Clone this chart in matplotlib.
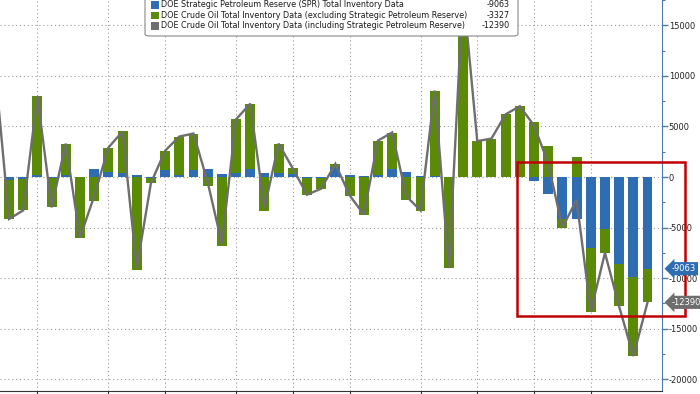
import numpy as np
import matplotlib
matplotlib.use("Agg")
import matplotlib.pyplot as plt
from matplotlib.patches import FancyBboxPatch, Rectangle

plt.rcParams['font.family'] = ['DejaVu Sans']
plt.rcParams['axes.unicode_minus'] = False

# ---------------- data (weekly changes, thousand barrels) ----------------
weeks = list(range(-1, 46))
spr = [0, -300, -200, 200, -100, 150, 0, 800, 500, 400, 200, -100, 700, 150, 700,
       750, 300, 400, 750, 400, 400, 300, -100, -50, 1000, 200, 100, 150, 800, 500,
       100, 100, 0, 0, 0, 0, 0, 0, -350, -1700, -4200, -4200, -7050, -5150, -8600,
       -9850, -9063]
commercial = [11000, -3850, -3100, 7800, -2900, 3150, -6000, -2400, 2400, 4100, -9200,
              -500, 1900, 3850, 3600, -900, -6800, 5300, 6500, -3400, 2900, 550, -1650,
              -1100, 300, -1900, -3800, 3450, 3600, -2250, -3400, 8450, -9000, 18500,
              3550, 3800, 6200, 7000, 5450, 3050, -800, 1950, -6250, -2350, -4200,
              -7850, -3327]
total = [11000, -4150, -3300, 8000, -3000, 3300, -6000, -1900, 2900, 4500, -9000,
         -600, 2600, 4000, 4300, -500, -6600, 5700, 7250, -3100, 3300, 850, -1750,
         -1150, 1300, -1800, -3700, 3600, 4400, -1900, -3300, 8550, -9000, 18500,
         3550, 3800, 6200, 7000, 5100, 1350, -5000, -2250, -13300, -7500, -12800,
         -17700, -12390]

legend_labels = ["DOE Strategic Petroleum Reserve (SPR) Total Inventory Data",
                 "DOE Crude Oil Total Inventory Data (excluding Strategic Petroleum Reserve)",
                 "DOE Crude Oil Total Inventory Data (including Strategic Petroleum Reserve)"]
legend_values = ["-9063", "-3327", "-12390"]
month_ticks = [2, 7, 11, 16, 20, 24, 29, 33, 37, 41]
y_major = [-20000, -15000, -10000, -5000, 0, 5000, 10000, 15000]
y_minor = list(range(-20000, 17501, 2500))

BLUE = "#2f6db3"
GREEN = "#5b8a06"
GREY = "#6e6e6e"
RED = "#c00000"

W, H = 700, 394
fig = plt.figure(figsize=(W / 100, H / 100), dpi=100)
fig.patch.set_facecolor("white")
ax = fig.add_axes([0, 3 / H, 662 / W, 391 / H])

x = np.array(weeks, dtype=float)
s = np.array(spr, dtype=float)
c = np.array(commercial, dtype=float)
green_bottom = np.where(np.sign(c) == np.sign(s), s, 0.0)

ax.bar(x, s, width=0.7, color=BLUE, zorder=2, linewidth=0)
ax.bar(x, c, bottom=green_bottom, width=0.7, color=GREEN, zorder=2, linewidth=0)
ax.plot(x, total, color=GREY, lw=1.7, zorder=4, solid_joinstyle="miter")

ax.set_xlim(-0.636, 46.02)
ax.set_ylim(-21155, 17443)

# axes styling
for side in ("top", "left"):
    ax.spines[side].set_visible(False)
ax.spines["right"].set_color("#4f79a8")
ax.spines["bottom"].set_color("#333333")
ax.yaxis.tick_right()
ax.set_yticks(y_major)
ax.set_yticks(y_minor, minor=True)
ax.set_yticklabels([str(v) for v in y_major])
ax.tick_params(axis="y", which="major", length=4, width=1, colors="#4f79a8",
               labelcolor="#222222", labelsize=6, pad=0.8)
ax.tick_params(axis="y", which="minor", length=2, width=0.8, colors="#4f79a8")
ax.set_xticks(month_ticks)
ax.set_xticklabels([])
ax.tick_params(axis="x", length=4, width=0.8, colors="#333333")

ax.grid(True, which="major", color="#9a9a9a", linestyle=(0, (1, 2.5)), lw=0.8)
ax.set_axisbelow(True)

# highlight rectangle
ax.add_patch(Rectangle((35.8, -13750), 47.67 - 35.8, 1450 + 13750, fill=False,
                       ec=RED, lw=1.8, zorder=5, clip_on=False))

# right side value tags
for val, txt, col in [(-9063, legend_values[0], BLUE), (-12390, legend_values[2], GREY)]:
    ax.annotate(txt, xy=(1, val), xycoords=("axes fraction", "data"),
                xytext=(7, 0), textcoords="offset points", ha="left", va="center",
                color="white", fontsize=6,
                bbox=dict(boxstyle="larrow,pad=0.25", fc=col, ec="none"),
                annotation_clip=False, zorder=6)

# legend (manual, top partially cut off)
def fx(px):
    return px / W

def fy(py):
    return 1 - py / H

box = FancyBboxPatch((fx(145), fy(36)), fx(518) - fx(145), fy(-10) - fy(36),
                     boxstyle="round,pad=0,rounding_size=0.006",
                     transform=fig.transFigure, fc="white", ec="#8a8a8a", lw=0.8,
                     zorder=10)
fig.patches.append(box)
rows = [4.8, 15.3, 26.0]
for lab, val, col, ry in zip(legend_labels, legend_values, [BLUE, GREEN, GREY], rows):
    fig.patches.append(Rectangle((fx(151), fy(ry + 3.8)), fx(7.5), 7.5 / H,
                                 transform=fig.transFigure, fc=col, ec="none",
                                 zorder=11))
    fig.text(fx(161), fy(ry), lab, fontsize=5.8, color="#1a1a1a", va="center",
             ha="left", zorder=12)
    fig.text(fx(510), fy(ry), val, fontsize=5.8, color="#1a1a1a", va="center",
             ha="right", zorder=12)

fig.savefig("out.png", dpi=100, facecolor="white")
